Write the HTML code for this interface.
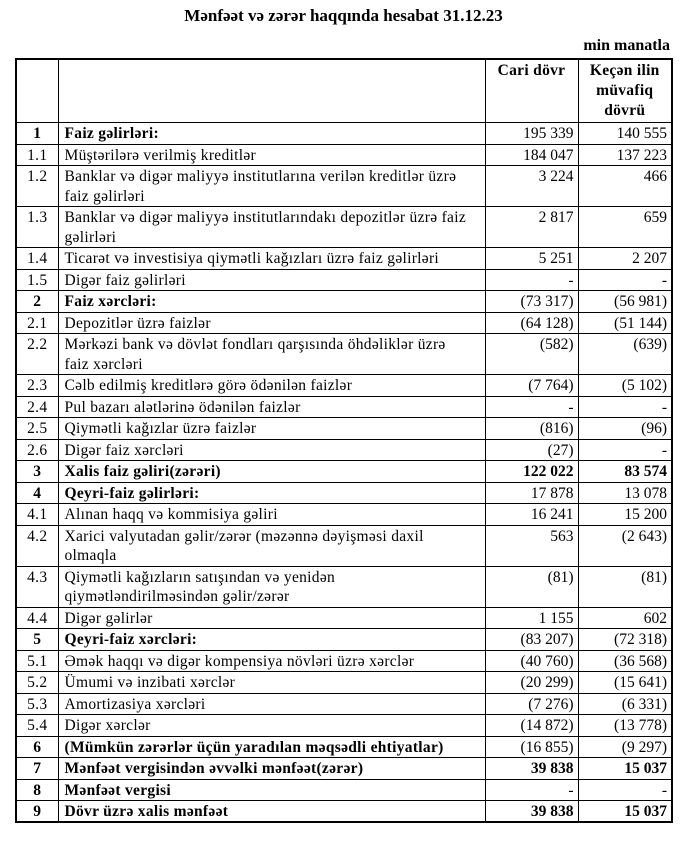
<!DOCTYPE html>
<html><head><meta charset="utf-8"><style>
body{margin:0;background:#fff;width:687px;height:847px;position:relative;font-family:"Liberation Serif",serif;color:#000;overflow:hidden}
.t{position:absolute;left:0;width:687px;text-align:center;top:6px;font-weight:bold;font-size:17px}
.u{position:absolute;right:17px;top:37px;font-weight:bold;font-size:16px}
table{position:absolute;left:15px;top:58px;border-collapse:collapse;table-layout:fixed;width:656px;font-size:15.5px;letter-spacing:0.3px;border:2px solid #000}
td{border:1.5px solid #000;padding:0 6px;vertical-align:top;line-height:19px;padding-top:1px;overflow:hidden;white-space:nowrap}
tr.d td{line-height:19.5px}
td:nth-child(1){text-align:center;padding:1px 0 0}
td:nth-child(3),td:nth-child(4){text-align:right;padding-right:4px;letter-spacing:0}
tr.b td{font-weight:bold}
tr.b td:nth-child(3),tr.b td:nth-child(4){font-weight:normal}
tr.bb td{font-weight:bold}
tr.s{height:21.5px}
tr.d{height:41px}
th{border:1.5px solid #000;font-weight:bold;font-size:15.5px;vertical-align:top;line-height:20px;padding-top:1px}
</style></head><body>
<div class="t">Mənfəət və zərər haqqında hesabat 31.12.23</div>
<div class="u">min manatla</div>
<table>
<colgroup><col style="width:42px"><col style="width:427px"><col style="width:93px"><col style="width:94px"></colgroup>
<tr style="height:59px"><th></th><th></th><th>Cari dövr</th><th>Keçən ilin<br>müvafiq<br>dövrü</th></tr>
<tr class="s b"><td>1</td><td>Faiz gəlirləri:</td><td>195 339</td><td>140 555</td></tr>
<tr class="s"><td>1.1</td><td>Müştərilərə verilmiş kreditlər</td><td>184 047</td><td>137 223</td></tr>
<tr class="d"><td>1.2</td><td>Banklar və digər maliyyə institutlarına verilən kreditlər üzrə<br>faiz gəlirləri</td><td>3 224</td><td>466</td></tr>
<tr class="d"><td>1.3</td><td>Banklar və digər maliyyə institutlarındakı depozitlər üzrə faiz<br>gəlirləri</td><td>2 817</td><td>659</td></tr>
<tr class="s"><td>1.4</td><td>Ticarət və investisiya qiymətli kağızları üzrə faiz gəlirləri</td><td>5 251</td><td>2 207</td></tr>
<tr class="s"><td>1.5</td><td>Digər faiz gəlirləri</td><td>-</td><td>-</td></tr>
<tr class="s b"><td>2</td><td>Faiz xərcləri:</td><td>(73 317)</td><td>(56 981)</td></tr>
<tr class="s"><td>2.1</td><td>Depozitlər üzrə faizlər</td><td>(64 128)</td><td>(51 144)</td></tr>
<tr class="d"><td>2.2</td><td>Mərkəzi bank və dövlət fondları qarşısında öhdəliklər üzrə<br>faiz xərcləri</td><td>(582)</td><td>(639)</td></tr>
<tr class="s"><td>2.3</td><td>Cəlb edilmiş kreditlərə görə ödənilən faizlər</td><td>(7 764)</td><td>(5 102)</td></tr>
<tr class="s"><td>2.4</td><td>Pul bazarı alətlərinə ödənilən faizlər</td><td>-</td><td>-</td></tr>
<tr class="s"><td>2.5</td><td>Qiymətli kağızlar üzrə faizlər</td><td>(816)</td><td>(96)</td></tr>
<tr class="s"><td>2.6</td><td>Digər faiz xərcləri</td><td>(27)</td><td>-</td></tr>
<tr class="s bb"><td>3</td><td>Xalis faiz gəliri(zərəri)</td><td>122 022</td><td>83 574</td></tr>
<tr class="s b"><td>4</td><td>Qeyri-faiz gəlirləri:</td><td>17 878</td><td>13 078</td></tr>
<tr class="s"><td>4.1</td><td>Alınan haqq və kommisiya gəliri</td><td>16 241</td><td>15 200</td></tr>
<tr class="d"><td>4.2</td><td>Xarici valyutadan gəlir/zərər (məzənnə dəyişməsi daxil<br>olmaqla</td><td>563</td><td>(2 643)</td></tr>
<tr class="d"><td>4.3</td><td>Qiymətli kağızların satışından və yenidən<br>qiymətləndirilməsindən gəlir/zərər</td><td>(81)</td><td>(81)</td></tr>
<tr class="s"><td>4.4</td><td>Digər gəlirlər</td><td>1 155</td><td>602</td></tr>
<tr class="s b"><td>5</td><td>Qeyri-faiz xərcləri:</td><td>(83 207)</td><td>(72 318)</td></tr>
<tr class="s"><td>5.1</td><td>Əmək haqqı və digər kompensiya növləri üzrə xərclər</td><td>(40 760)</td><td>(36 568)</td></tr>
<tr class="s"><td>5.2</td><td>Ümumi və inzibati xərclər</td><td>(20 299)</td><td>(15 641)</td></tr>
<tr class="s"><td>5.3</td><td>Amortizasiya xərcləri</td><td>(7 276)</td><td>(6 331)</td></tr>
<tr class="s"><td>5.4</td><td>Digər xərclər</td><td>(14 872)</td><td>(13 778)</td></tr>
<tr class="s b"><td>6</td><td>(Mümkün zərərlər üçün yaradılan məqsədli ehtiyatlar)</td><td>(16 855)</td><td>(9 297)</td></tr>
<tr class="s bb"><td>7</td><td>Mənfəət vergisindən əvvəlki mənfəət(zərər)</td><td>39 838</td><td>15 037</td></tr>
<tr class="s b"><td>8</td><td>Mənfəət vergisi</td><td>-</td><td>-</td></tr>
<tr class="s bb"><td>9</td><td>Dövr üzrə xalis mənfəət</td><td>39 838</td><td>15 037</td></tr>
</table>
</body></html>
